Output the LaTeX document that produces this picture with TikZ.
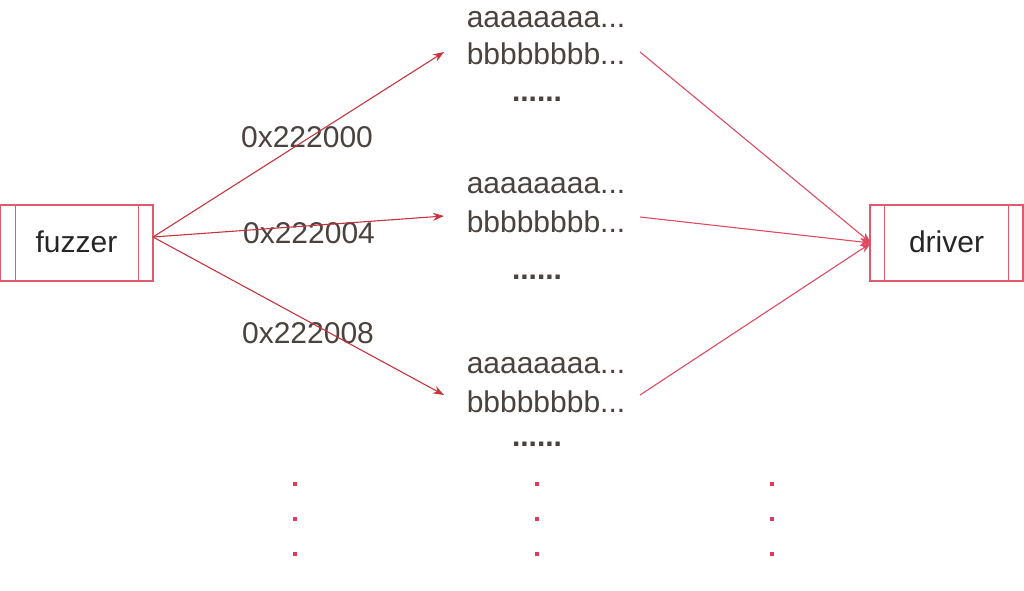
\documentclass[tikz,border=0pt]{standalone}
\usepackage{fontspec}
\setmainfont{Liberation Sans}
\usetikzlibrary{arrows.meta}
\definecolor{txt}{HTML}{4A423E}
\definecolor{boxt}{HTML}{262626}
\definecolor{boxc}{HTML}{E05A6C}
\definecolor{arr}{HTML}{C8343E}
\definecolor{arr2}{HTML}{E04A60}
\definecolor{dotc}{HTML}{E03A58}
\begin{document}
\begin{tikzpicture}[x=1pt,y=-1pt,
  lbl/.style={text=txt,font=\fontsize{30}{36}\selectfont,inner sep=0pt,anchor=base},
  dotl/.style={text=txt,font=\fontsize{30}{36}\selectfont\bfseries,inner sep=0pt,anchor=base},
  proc/.style={draw=boxc,line width=1.2pt,minimum width=153pt,minimum height=76pt,inner sep=0pt},
  ptxt/.style={text=boxt,font=\fontsize{30}{36}\selectfont,inner sep=0pt,anchor=base},
  conn/.style={draw=arr,line width=1.1pt,-{Stealth[length=11pt,width=8pt]}},
  conn2/.style={draw=arr2,line width=1.1pt,-{Stealth[length=11pt,width=8pt]}},
  dotm/.style={fill=dotc,draw=none,minimum size=3.5pt,inner sep=0pt}]
\useasboundingbox (0,0) rectangle (1024,590);
% boxes
\node[proc] (fuzzer) at (76.5,243) {};
\node[ptxt] (ft) at (76.5,252) {fuzzer};
\draw[boxc,line width=1.2pt] ([xshift=16pt]fuzzer.north west) -- ([xshift=16pt]fuzzer.south west);
\draw[boxc,line width=1.2pt] ([xshift=-15pt]fuzzer.north east) -- ([xshift=-15pt]fuzzer.south east);
\node[proc] (driver) at (946.5,243) {};
\node[ptxt] (dt) at (946.5,252) {driver};
\draw[boxc,line width=1.2pt] ([xshift=15pt]driver.north west) -- ([xshift=15pt]driver.south west);
\draw[boxc,line width=1.2pt] ([xshift=-15pt]driver.north east) -- ([xshift=-15pt]driver.south east);
% text groups
\node[lbl] (a1) at (546,27) {aaaaaaaa...};
\node[lbl] (b1) at (546,64) {bbbbbbbb...};
\node[dotl] (d1) at (537,101) {......};
\node[lbl] (a2) at (546,193) {aaaaaaaa...};
\node[lbl] (b2) at (546,232) {bbbbbbbb...};
\node[dotl] (d2) at (537,279) {......};
\node[lbl] (a3) at (546,373) {aaaaaaaa...};
\node[lbl] (b3) at (546,412) {bbbbbbbb...};
\node[dotl] (d3) at (537,446) {......};
% address labels
\node[lbl] (l1) at (307,147) {0x222000};
\node[lbl] (l2) at (309,243) {0x222004};
\node[lbl] (l3) at (308,343) {0x222008};
% connector end points
\coordinate (fo) at (153,237);
\coordinate (i1) at (444,52);
\coordinate (i2) at (444,216);
\coordinate (i3) at (444,395);
\coordinate (o1) at (640,52);
\coordinate (o2) at (640,217);
\coordinate (o3) at (640,395);
\coordinate (di) at (871,243);
\draw[conn] (fo) -- (i1);
\draw[conn] (fo) -- (i2);
\draw[conn] (fo) -- (i3);
\draw[conn2] (o1) -- (di);
\draw[conn2] (o2) -- (di);
\draw[conn2] (o3) -- (di);
% ellipsis dots
\foreach \x/\n in {295/p,537/q,772/r}{
  \foreach \y/\m in {484/1,519/2,554/3}{
    \node[dotm] (\n\m) at (\x,\y) {};
  }
}
\end{tikzpicture}
\end{document}
